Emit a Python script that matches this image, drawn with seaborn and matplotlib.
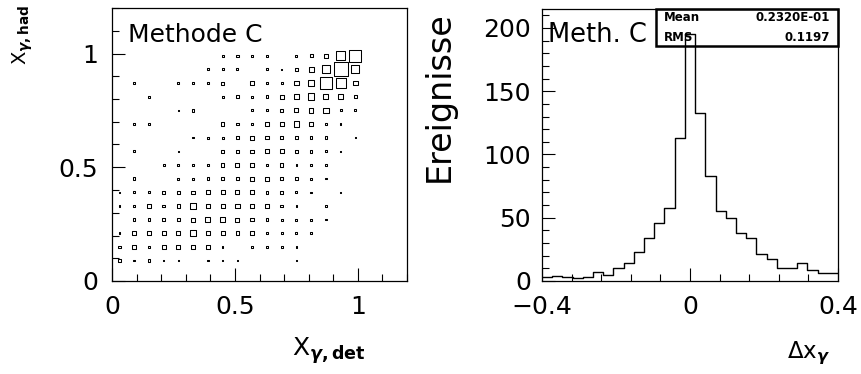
import numpy as np
import pandas as pd
import matplotlib
matplotlib.use("Agg")
import matplotlib.pyplot as plt
from matplotlib.ticker import MultipleLocator, FuncFormatter
from matplotlib.patches import Rectangle
import seaborn as sns

# ---- left panel: x_gamma(det) vs x_gamma(had), cells of width 0.06 ----
x_centers = [0.03, 0.09, 0.15, 0.21, 0.27, 0.33, 0.39, 0.45, 0.51,
             0.57, 0.63, 0.69, 0.75, 0.81, 0.87, 0.93, 0.99]
y_centers = [0.99, 0.93, 0.87, 0.81, 0.75, 0.69, 0.63, 0.57,
             0.51, 0.45, 0.39, 0.33, 0.27, 0.21, 0.15, 0.09]
box_counts = [
    [0, 0, 0, 0, 0, 0, 0, 4, 5, 4, 4, 0, 4, 6, 8, 18, 24],
    [0, 0, 0, 0, 0, 0, 4, 4, 4, 0, 4, 3, 6, 10, 16, 28, 16],
    [0, 4, 0, 0, 4, 4, 3, 6, 0, 7, 3, 4, 9, 11, 24, 20, 9],
    [0, 0, 4, 0, 0, 0, 0, 4, 5, 4, 5, 8, 9, 13, 10, 9, 5],
    [0, 0, 0, 0, 3, 5, 0, 0, 0, 4, 4, 6, 8, 9, 11, 4, 4],
    [0, 4, 4, 0, 0, 0, 0, 7, 5, 4, 7, 8, 11, 7, 4, 3, 0],
    [0, 0, 0, 0, 0, 3, 4, 4, 7, 8, 7, 7, 5, 5, 5, 0, 3],
    [0, 4, 0, 0, 3, 0, 0, 5, 7, 7, 8, 8, 7, 5, 4, 3, 0],
    [0, 0, 0, 4, 4, 4, 4, 7, 8, 9, 5, 7, 3, 3, 3, 0, 0],
    [0, 5, 0, 0, 4, 4, 5, 7, 7, 8, 8, 5, 5, 4, 3, 0, 0],
    [3, 4, 4, 7, 5, 7, 8, 8, 8, 8, 5, 5, 4, 3, 0, 3, 0],
    [3, 5, 7, 5, 7, 11, 7, 8, 9, 7, 7, 5, 3, 0, 5, 0, 0],
    [0, 5, 5, 7, 7, 8, 10, 9, 8, 7, 5, 4, 4, 4, 3, 0, 0],
    [3, 7, 8, 8, 8, 11, 8, 8, 7, 7, 5, 4, 4, 3, 0, 0, 0],
    [5, 8, 5, 8, 8, 7, 7, 3, 0, 4, 5, 4, 3, 0, 0, 0, 0],
    [5, 3, 5, 3, 3, 0, 3, 3, 3, 0, 0, 0, 3, 0, 0, 0, 0],
]

# ---- right panel: delta x_gamma distribution ----
dx_range = (-0.4, 0.4)
dx_nbins = 29
dx_counts = [3, 4, 3, 2, 3, 7, 5, 10, 14, 23, 34, 46, 58, 113, 195,
             133, 83, 55, 50, 38, 34, 21, 17, 10, 10, 14, 9, 6, 6]
stat_labels = ["Mean", "RMS"]
stat_values = ["0.2320E-01", "0.1197"]

sns.set_style("ticks")
plt.rcParams["font.family"] = ["DejaVu Sans"]
plt.rcParams["mathtext.fontset"] = "dejavusans"
plt.rcParams["text.color"] = "black"
plt.rcParams["axes.labelcolor"] = "black"
plt.rcParams["xtick.color"] = "black"
plt.rcParams["ytick.color"] = "black"

W, H = 861, 374
fig = plt.figure(figsize=(W / 100, H / 100), dpi=100)
ax1 = fig.add_axes([112 / W, 93 / H, 295 / W, 273 / H])
ax2 = fig.add_axes([542 / W, 93 / H, 296 / W, 272 / H])

# box plot: square side proportional to cell content
rows = []
for yc, row in zip(y_centers, box_counts):
    for xc, n in zip(x_centers, row):
        if n > 0:
            rows.append({"x": xc, "y": yc, "n": n, "area": n ** 2})
boxes = pd.DataFrame(rows)
zmax = max(max(r) for r in box_counts)
side_max_pt = 14 * 0.72
sns.scatterplot(data=boxes, x="x", y="y", size="area",
                sizes=(0, side_max_pt ** 2), size_norm=(0, zmax ** 2),
                marker="s", facecolors="none", edgecolor="black",
                linewidth=0.75, legend=False, ax=ax1)
ax1.set_xlim(0, 1.2)
ax1.set_ylim(0, 1.2)

# histogram
bin_w = (dx_range[1] - dx_range[0]) / dx_nbins
centers = dx_range[0] + bin_w * (np.arange(dx_nbins) + 0.5)
hist = pd.DataFrame({"dx": centers, "n": dx_counts})
sns.histplot(data=hist, x="dx", weights="n", bins=dx_nbins, binrange=dx_range,
             element="step", fill=False, color="black", linewidth=1.0, ax=ax2)
ax2.set_xlim(*dx_range)
ax2.set_ylim(0, 215)

fmt = FuncFormatter(lambda v, p: f"{v:g}".replace("-", "\u2212"))
for ax in (ax1, ax2):
    for s in ax.spines.values():
        s.set_visible(True)
        s.set_color("black")
        s.set_linewidth(0.9)
    ax.tick_params(which="both", direction="in", top=False, right=False,
                   colors="black", labelsize=18)
    ax.tick_params(which="major", length=9.5, width=0.8)
    ax.tick_params(which="minor", length=5, width=0.8)
    ax.xaxis.set_major_formatter(fmt)
    ax.yaxis.set_major_formatter(fmt)

ax1.xaxis.set_major_locator(MultipleLocator(0.5))
ax1.xaxis.set_minor_locator(MultipleLocator(0.1))
ax1.yaxis.set_major_locator(MultipleLocator(0.5))
ax1.yaxis.set_minor_locator(MultipleLocator(0.1))
ax1.tick_params(axis="x", pad=10)
ax1.tick_params(axis="y", pad=10)

ax2.xaxis.set_major_locator(MultipleLocator(0.4))
ax2.xaxis.set_minor_locator(MultipleLocator(0.08))
ax2.yaxis.set_major_locator(MultipleLocator(50))
ax2.yaxis.set_minor_locator(MultipleLocator(10))
ax2.tick_params(axis="x", pad=10)
ax2.tick_params(axis="y", pad=8)

# axis titles
ax1.set_xlabel(r"$\mathregular{X}_{\boldsymbol{\gamma}\mathbf{,det}}$",
               fontsize=18, loc="right")
ax1.xaxis.set_label_coords(0.861, -0.20)
ax1.set_ylabel(r"$\mathregular{X}_{\boldsymbol{\gamma}\mathbf{,had}}$",
               fontsize=14, loc="top")
ax1.yaxis.set_label_coords(-0.26, 1.011)

ax2.set_xlabel(r"$\Delta\mathregular{x}_{\boldsymbol{\gamma}}$",
               fontsize=16.5, loc="right")
ax2.xaxis.set_label_coords(0.975, -0.215)
ax2.set_ylabel("Ereignisse", fontsize=24, loc="top")
ax2.yaxis.set_label_coords(-0.29, 0.99)

# panel captions
ax1.text(0.054, 0.875, "Methode C", transform=ax1.transAxes,
         fontsize=18, ha="left", va="baseline")
ax2.text(0.02, 0.879, "Meth. C", transform=ax2.transAxes,
         fontsize=18.5, ha="left", va="baseline")

# statistics box
ax2.add_patch(Rectangle((0.385, 0.864), 0.615, 0.136, transform=ax2.transAxes,
                        fill=False, edgecolor="black", linewidth=1.8,
                        clip_on=False))
for lab, val, yy in zip(stat_labels, stat_values, [0.967, 0.897]):
    ax2.text(0.412, yy, lab, transform=ax2.transAxes, fontsize=8.5,
             fontweight="bold", ha="left", va="center")
    ax2.text(0.973, yy, val, transform=ax2.transAxes, fontsize=8.5,
             fontweight="bold", ha="right", va="center")

fig.savefig("out.png", dpi=100)
